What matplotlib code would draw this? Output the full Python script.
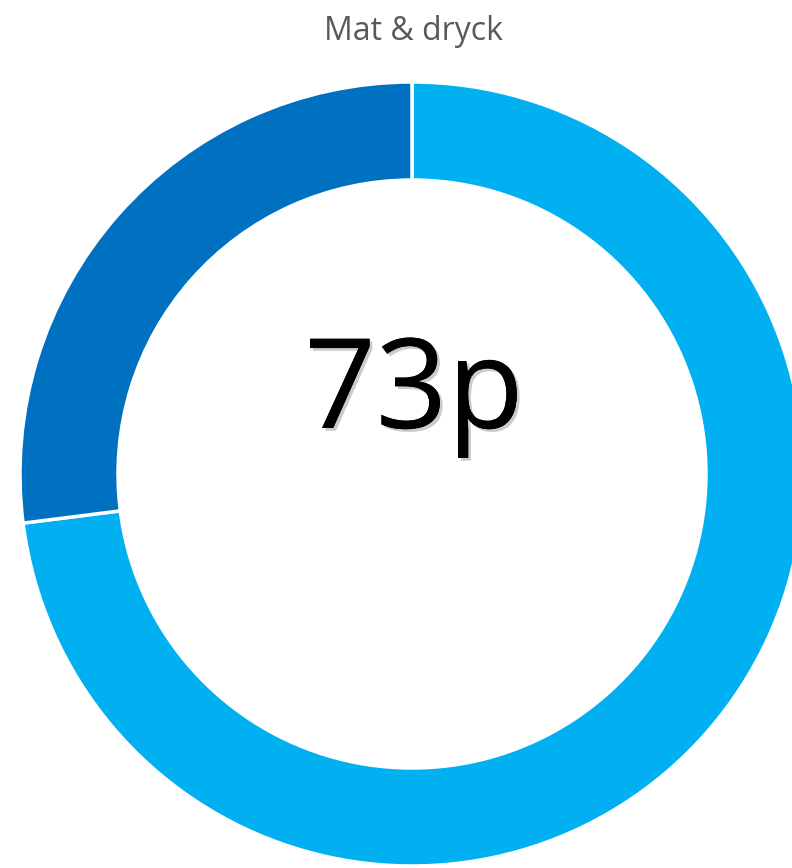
import matplotlib.pyplot as plt
import matplotlib.patheffects as pe

plt.rcParams['font.family'] = ['Open Sans', 'DejaVu Sans']

# andel (procent) per segment
labels = ['Mat & dryck', 'Övrigt']
values = [73, 27]
colors = ['#00B0F0', '#0070C0']
title = 'Mat & dryck'
center_text = '73p'

W, H = 792, 868
fig = plt.figure(figsize=(W / 100, H / 100), dpi=100)
ax = fig.add_axes([0, 0, 1, 1])

# ringen går utanför bildens högra och nedre kant
cx, cy, r = 412, H - 474, 392
ax.pie(values, colors=colors, startangle=90, counterclock=False,
       center=(cx, cy), radius=r,
       wedgeprops=dict(width=98, edgecolor='white', linewidth=2.5))

ax.set_xlim(0, W)
ax.set_ylim(0, H)
ax.set_aspect('equal')
ax.axis('off')

ax.text(414, H - 40, title, ha='center', va='baseline',
        fontsize=23, color='#595959')
ax.text(cx + 2, H - 428, center_text, ha='center', va='baseline',
        fontsize=90, color='black',
        path_effects=[pe.withSimplePatchShadow(offset=(2, -2), shadow_rgbFace='#999999', alpha=0.5),
                      pe.Normal()])

fig.savefig('out.png', dpi=100)
